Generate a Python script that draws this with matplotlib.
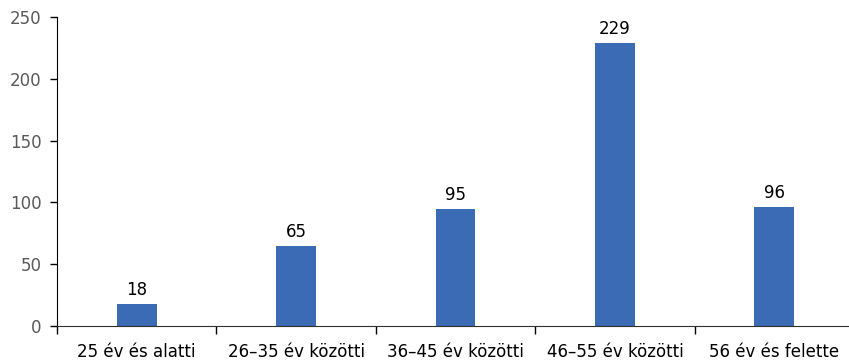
import matplotlib
matplotlib.use("Agg")
import matplotlib.pyplot as plt
import numpy as np

categories = ["25 év és alatti", "26–35 év közötti", "36–45 év közötti", "46–55 év közötti", "56 év és felette"]
values = [18, 65, 95, 229, 96]

plt.rcParams['font.family'] = ['DejaVu Sans']

fig = plt.figure(figsize=(8.49, 3.63), dpi=100)
ax = fig.add_axes([57/849, 37/363, 797/849, 309/363])

x = np.arange(len(categories))
bars = ax.bar(x, values, width=0.25, color="#3B6BB5", zorder=2)
for xi, v in zip(x, values):
    ax.text(xi, v + 4, str(v), ha="center", va="bottom", fontsize=12, color="black")

ax.set_xlim(-0.5, len(categories) - 0.5)
ax.set_ylim(0, 250)
ax.set_yticks([0, 50, 100, 150, 200, 250])
ax.tick_params(axis="y", labelsize=12, labelcolor="#595959", length=5, width=1, pad=6)

ax.set_xticks(np.arange(len(categories) + 1) - 0.5)
ax.set_xticklabels([])
ax.set_xticks(x, minor=True)
ax.set_xticklabels(categories, minor=True, fontsize=12, color="black")
ax.tick_params(axis="x", which="major", length=6, width=1)
ax.tick_params(axis="x", which="minor", length=0, pad=12)

for s in ["top", "right"]:
    ax.spines[s].set_visible(False)
ax.spines["left"].set_color("black")
ax.spines["bottom"].set_color("#303030")

fig.savefig("out.png", dpi=100)
